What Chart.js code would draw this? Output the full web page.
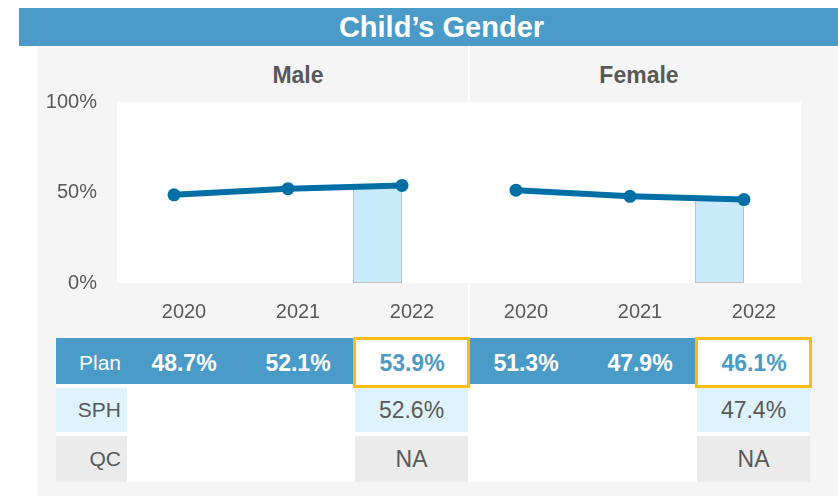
<!DOCTYPE html>
<html>
<head>
<meta charset="utf-8">
<title>Child’s Gender</title>
<script src="https://cdn.jsdelivr.net/npm/chart.js@4.4.1/dist/chart.umd.min.js"></script>
<style>
    body {
        margin: 0;
        width: 838px;
        height: 496px;
        position: relative;
        overflow: hidden;
        background: #ffffff;
        font-family: "Liberation Sans", Arial, sans-serif;
        color: #595959;
    }
    .title-bar {
        position: absolute;
        left: 19px; top: 8px;
        width: 819px; height: 38px;
        box-sizing: border-box;
        padding-left: 26px;
        background: #4a9bc8;
        color: #ffffff;
        font-weight: bold;
        font-size: 29px;
        line-height: 38px;
        text-align: center;
    }
    .panel {
        position: absolute;
        left: 37px; top: 46px;
        width: 801px; height: 450px;
        background: #f5f5f5;
    }
    .divider {
        position: absolute;
        left: 468px; top: 46px;
        width: 2px; height: 292px;
        background: #ffffff;
    }
    .group-name {
        position: absolute;
        top: 63px;
        width: 200px;
        line-height: 24px;
        font-size: 23px;
        font-weight: bold;
        text-align: center;
    }
    #chartBox {
        position: absolute;
        left: 37px; top: 70px;
    }
    .cell {
        position: absolute;
        box-sizing: border-box;
        white-space: nowrap;
    }
</style>
</head>
<body>
<div class="title-bar" id="title"></div>
<div class="panel"></div>
<div class="divider"></div>
<div id="groups"></div>
<canvas id="chartBox" width="801" height="260"></canvas>
<div id="table"></div>

<script>
// ---- данные ----
const titleText = 'Child’s Gender';
const groupNames = ['Male', 'Female'];
const years = ['2020', '2021', '2022'];
const planMale = [48.7, 52.1, 53.9];
const planFemale = [51.3, 47.9, 46.1];
const sphMale = [null, null, 52.6];
const sphFemale = [null, null, 47.4];
const qcMale = [null, null, 'NA'];
const qcFemale = [null, null, 'NA'];
const yTickValues = [0, 50, 100];

const LINE_COLOR = '#006fa6';
const PLAN_BLUE = '#4a9bc8';
const TEXT_GRAY = '#595959';

document.getElementById('title').textContent = titleText;

// заголовки групп над графиком
const groupCenters = [298, 639];
const groupsBox = document.getElementById('groups');
groupNames.forEach((name, i) => {
    const div = document.createElement('div');
    div.className = 'group-name';
    div.style.left = (groupCenters[i] - 100) + 'px';
    div.textContent = name;
    groupsBox.appendChild(div);
});

// ---- график ----
const labels = years.concat(years);
const blanks = years.map(() => null);
const last = years.length - 1;
const currentBars = blanks.slice(0, last).concat([planMale[last]])
    .concat(blanks.slice(0, last)).concat([planFemale[last]]);

// белый фон области построения
const plotBackground = {
    id: 'plotBackground',
    beforeDraw(chart) {
        const { ctx, chartArea: a } = chart;
        ctx.save();
        ctx.fillStyle = '#ffffff';
        ctx.fillRect(a.left, a.top, a.right - a.left, a.bottom - a.top);
        ctx.restore();
    }
};

const lineStyle = {
    type: 'line',
    borderColor: LINE_COLOR,
    backgroundColor: LINE_COLOR,
    borderWidth: 6,
    pointRadius: 6.5,
    pointBorderWidth: 0,
    tension: 0,
    order: 0
};

const chart = new Chart(document.getElementById('chartBox'), {
    type: 'bar',
    data: {
        labels: labels,
        datasets: [
            Object.assign({ label: groupNames[0], data: planMale.concat(blanks) }, lineStyle),
            Object.assign({ label: groupNames[1], data: blanks.concat(planFemale) }, lineStyle),
            {
                label: 'current',
                data: currentBars,
                backgroundColor: '#c8eafb',
                borderColor: '#bfbfbf',
                borderWidth: 1,
                borderSkipped: false,
                barPercentage: 1,
                categoryPercentage: 0.86,
                order: 1
            },
            {
                // пустой слот, чтобы столбик стоял слева от точки
                label: 'spacer',
                data: labels.map(() => null),
                barPercentage: 1,
                categoryPercentage: 0.86,
                order: 2
            }
        ]
    },
    options: {
        responsive: false,
        animation: false,
        layout: { padding: { left: 0, right: 37, top: 12, bottom: 0 } },
        plugins: {
            legend: { display: false },
            tooltip: { enabled: false }
        },
        scales: {
            x: {
                offset: true,
                grid: { display: false, drawTicks: false },
                border: { display: false },
                ticks: {
                    color: TEXT_GRAY,
                    font: { family: 'Liberation Sans', size: 20 },
                    padding: 17,
                    labelOffset: 10,
                    autoSkip: false,
                    maxRotation: 0
                },
                afterFit(scale) { scale.height = 47; }
            },
            y: {
                min: 0,
                max: 100,
                grid: { display: false, drawTicks: false },
                border: { display: false },
                afterBuildTicks(scale) {
                    scale.ticks = yTickValues.map(v => ({ value: v }));
                },
                ticks: {
                    color: TEXT_GRAY,
                    font: { family: 'Liberation Sans', size: 20 },
                    padding: 20,
                    callback: v => v + '%'
                },
                afterFit(scale) { scale.width = 80; }
            }
        }
    },
    plugins: [plotBackground]
});

// ---- таблица под графиком ----
const table = document.getElementById('table');
const TABLE_LEFT = 56;
const LABEL_W = 71;
const COL_W = 114;
const colLeft = i => TABLE_LEFT + LABEL_W + i * COL_W;

function addCell(x, y, w, h, styles, text) {
    const div = document.createElement('div');
    div.className = 'cell';
    Object.assign(div.style, {
        left: x + 'px', top: y + 'px', width: w + 'px', height: h + 'px'
    }, styles);
    if (text !== undefined && text !== null) div.textContent = text;
    table.appendChild(div);
    return div;
}

function fmt(v) {
    return typeof v === 'number' ? v.toFixed(1) + '%' : v;
}

const rows = [
    { name: 'Plan', top: 338, h: 46, dy: 2, male: planMale, female: planFemale, bg: PLAN_BLUE },
    { name: 'SPH', top: 388, h: 44, dy: 0, male: sphMale, female: sphFemale, bg: '#def3fd' },
    { name: 'QC', top: 436, h: 46, dy: 0, male: qcMale, female: qcFemale, bg: '#ebebeb' }
];

// белая подложка
addCell(TABLE_LEFT, 338, 6 * COL_W + LABEL_W - 2, 144, { background: '#ffffff' });

rows.forEach(row => {
    const isPlan = row.name === 'Plan';
    const textStyle = (size, bold, color) => ({
        fontSize: size + 'px',
        fontWeight: bold ? 'bold' : 'normal',
        color: color,
        lineHeight: row.h + 'px',
        paddingTop: row.dy + 'px'
    });

    if (isPlan) addCell(TABLE_LEFT, row.top, 6 * COL_W + LABEL_W, row.h, { background: row.bg });

    addCell(TABLE_LEFT, row.top, LABEL_W, row.h, Object.assign(
        { background: row.bg, textAlign: 'right', paddingRight: '6px' },
        textStyle(21, false, isPlan ? '#ffffff' : TEXT_GRAY)), row.name);

    const values = row.male.concat(row.female);
    values.forEach((v, i) => {
        const highlight = (i % years.length) === last;
        const x = colLeft(i);
        if (isPlan && highlight) {
            addCell(x - 2, row.top - 1, 117, row.h + 5, {
                background: '#ffffff', border: '3px solid #fbbc14'
            });
            addCell(x, row.top, COL_W, row.h, Object.assign({ textAlign: 'center' },
                textStyle(23, true, PLAN_BLUE)), fmt(v));
        } else if (isPlan) {
            addCell(x, row.top, COL_W, row.h, Object.assign({ textAlign: 'center' },
                textStyle(23, true, '#ffffff')), fmt(v));
        } else if (v !== null) {
            addCell(x, row.top, COL_W - 1, row.h, Object.assign(
                { background: row.bg, textAlign: 'center' },
                textStyle(23, false, TEXT_GRAY)), fmt(v));
        }
    });
});
</script>
</body>
</html>
